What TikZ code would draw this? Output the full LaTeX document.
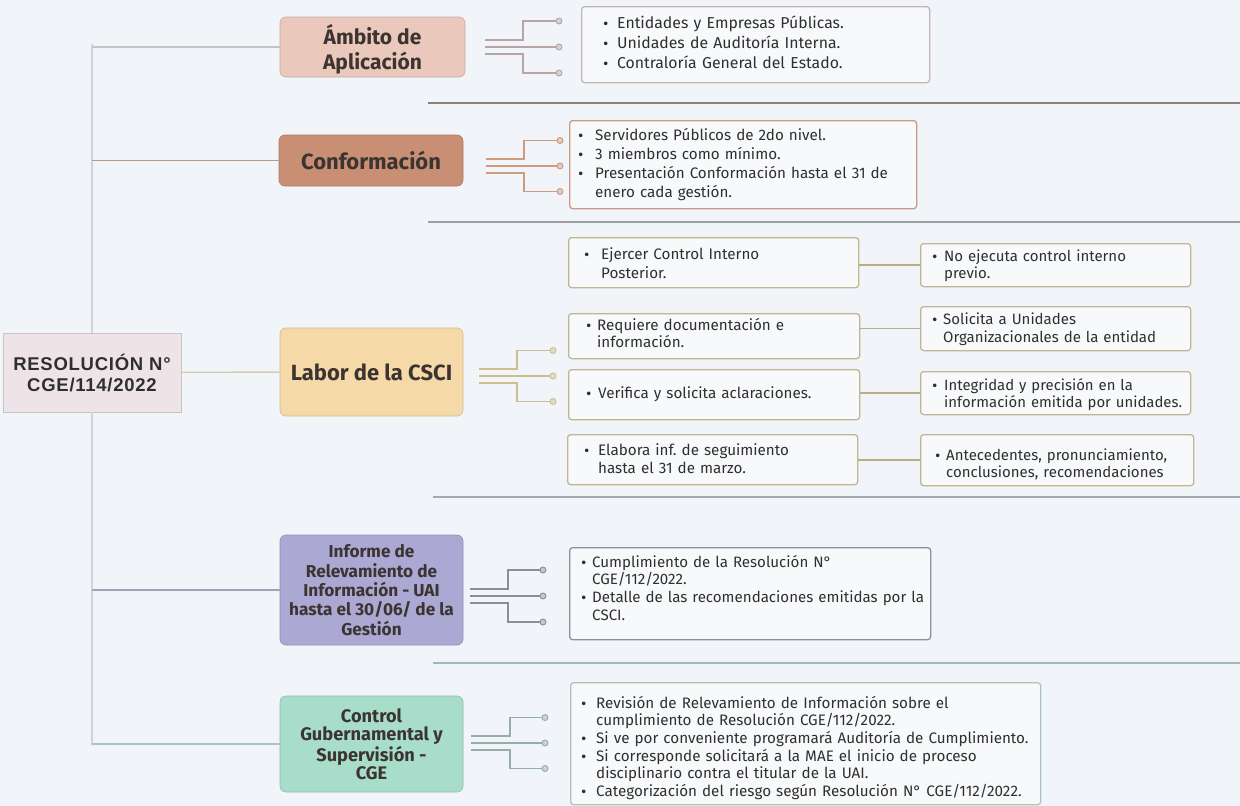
\documentclass[tikz,border=0pt]{standalone}
\usepackage{fontspec}
\setmainfont{Fira Sans}
\newfontfamily\rootfont[LetterSpace=4]{Liberation Sans}
\newfontfamily\bulfont{DejaVu Sans}
\usetikzlibrary{calc}
\definecolor{bg}{HTML}{F1F5F9}
\definecolor{boxfill}{HTML}{F7F9FB}
\definecolor{txt}{HTML}{2F2F2F}
\definecolor{ttl}{HTML}{3B3431}
\definecolor{rootfill}{HTML}{EEE4E8}
\definecolor{ambfill}{HTML}{EBC8BC}
\definecolor{conffill}{HTML}{C98F74}
\definecolor{labfill}{HTML}{F6D9A8}
\definecolor{inffill}{HTML}{ABA8D4}
\definecolor{ctlfill}{HTML}{A8DCCB}
\definecolor{ambfk}{HTML}{B9A3A3}
\definecolor{conffk}{HTML}{D09A7E}
\definecolor{labfk}{HTML}{CDBE8E}
\definecolor{inffk}{HTML}{8E8C99}
\definecolor{ctlfk}{HTML}{97ADA7}
\definecolor{trunkc}{HTML}{D3D3D7}
\definecolor{ambln}{HTML}{C6C3C3}
\definecolor{confln}{HTML}{B89A89}
\definecolor{labln}{HTML}{D6CEAA}
\definecolor{infln}{HTML}{A4A1B7}
\definecolor{ctlln}{HTML}{A9C4BB}
\definecolor{sepa}{HTML}{8C7F78}
\definecolor{sepb}{HTML}{A09E9E}
\definecolor{sepc}{HTML}{A2A7B4}
\definecolor{sepd}{HTML}{A3BAB4}
\definecolor{bxamb}{HTML}{C3B5B3}
\definecolor{bxconf}{HTML}{C99A86}
\definecolor{bxlab}{HTML}{C2B68E}
\definecolor{bxinf}{HTML}{8F8E9A}
\definecolor{bxctl}{HTML}{AFC3BC}
\definecolor{lconn}{HTML}{B8AF86}
\newcommand\bitem[2]{\noindent\hangindent=#1\hangafter=1\makebox[#1][l]{{\bulfont\fontsize{12.5}{12}\selectfont •}}#2\par}
\newcommand\forkdraw[7]{%
  \coordinate (#1s1) at (#2,#5-7);
  \coordinate (#1s2) at (#2,#5);
  \coordinate (#1s3) at (#2,#5+7);
  \coordinate (#1b) at (#3,#5);
  \node[fdot=#7] (#1c1) at (#4,#5-#6) {};
  \node[fdot=#7] (#1c2) at (#4,#5) {};
  \node[fdot=#7] (#1c3) at (#4,#5+#6) {};
  \draw[fline=#7] (#1s1) -- (#1s1 -| #1b) |- (#1c1.west);
  \draw[fline=#7] (#1s2) -- (#1c2.west);
  \draw[fline=#7] (#1s3) -- (#1s3 -| #1b) |- (#1c3.west);
}
\tikzset{
  fdot/.style={circle, draw=#1, fill=#1!45!bg, line width=0.9pt, minimum size=6pt, inner sep=0pt},
  fline/.style={draw=#1, line width=1.2pt},
  branch/.style={draw=#1!85!black, fill=#1, rounded corners=6pt, line width=0.6pt, inner sep=0pt, align=center, text=ttl, text depth=0pt},
  tbox/.style={draw=#1, fill=boxfill, rounded corners=3pt, line width=1.3pt, inner sep=0pt, anchor=north west},
  btxt/.style={anchor=base west, inner sep=0pt, text width=480pt, align=left, text=txt},
  hline/.style={draw=#1, line width=1.5pt},
  sepline/.style={draw=#1, line width=1.6pt},
}
\frenchspacing
\begin{document}
\frenchspacing
\begin{tikzpicture}[x=1pt,y=-1pt]
\useasboundingbox (0,0) rectangle (1240,806);
\fill[bg] (0,0) rectangle (1240,806);

% separators
\draw[sepline=sepa] (428,103) -- (1240,103);
\draw[sepline=sepb] (428,222) -- (1240,222);
\draw[sepline=sepc] (433,497) -- (1240,497);
\draw[sepline=sepd] (433,663) -- (1240,663);

% root
\node[draw=rootfill!85!black, fill=rootfill, line width=0.6pt, minimum width=178pt, minimum height=79pt, inner sep=0pt, align=center, text=txt,
  font=\rootfont\bfseries\fontsize{18.5}{21}\selectfont] (root) at (92,372.5) {RESOLUCIÓN N°\\CGE/114/2022};

% branch nodes
\node[branch=ambfill, minimum width=185pt, minimum height=60pt, font=\bfseries\fontsize{21}{25}\selectfont] (amb) at (372.5,47) {Ámbito de\\Aplicación};
\node[branch=conffill, minimum width=184pt, minimum height=51pt, font=\bfseries\fontsize{22}{25}\selectfont] (conf) at (371,160.5) {Conformación};
\node[branch=labfill, minimum width=183pt, minimum height=88pt, font=\bfseries\fontsize{22}{25}\selectfont] (lab) at (371.5,372) {Labor de la CSCI};
\node[branch=inffill, minimum width=183pt, minimum height=110pt, font=\bfseries\fontsize{17.2}{19.3}\selectfont] (inf) at (371.5,590) {Informe de\\Relevamiento de\\Información - UAI\\hasta el 30/06/ de la\\Gestión};
\node[branch=ctlfill, minimum width=183pt, minimum height=96pt, font=\bfseries\fontsize{18.2}{18.7}\selectfont] (ctl) at (371.5,744) {Control\\Gubernamental y\\Supervisión -\\CGE};

% trunk
\coordinate (ttop) at (92,44);
\coordinate (tbot) at (92,745);
\draw[hline=trunkc, line width=2.2pt] (root.north) -- (ttop);
\draw[hline=trunkc, line width=2.2pt] (root.south) -- (tbot);
\draw[hline=ambln] (root.north |- amb.west) -- (amb.west);
\draw[hline=confln] (root.north |- conf.west) -- (conf.west);
\draw[hline=labln] (root.east) -- (lab.west);
\draw[hline=infln] (root.south |- inf.west) -- (inf.west);
\draw[hline=ctlln] (root.south |- ctl.west) -- (ctl.west);

% forks
\forkdraw{fa}{485}{523}{559}{47}{26}{ambfk}
\forkdraw{fb}{486}{524}{560}{166}{25.5}{conffk}
\forkdraw{fc}{479}{517}{553}{376}{25.5}{labfk}
\forkdraw{fd}{470}{508}{543}{596}{26}{inffk}
\forkdraw{fe}{471}{510}{545}{743}{25.5}{ctlfk}

% text boxes: Ambito
\node[tbox=bxamb, minimum width=348pt, minimum height=76pt] (b1) at (581,6) {};
\node[btxt, font=\fontsize{15.8}{20}\selectfont] (b1t) at (602,28.5) {%
\bitem{15pt}{Entidades y Empresas Públicas.}%
\bitem{15pt}{Unidades de Auditoría Interna.}%
\bitem{15pt}{Contraloría General del Estado.}};

% Conformacion
\node[tbox=bxconf, minimum width=347pt, minimum height=88pt] (b2) at (569,120) {};
\node[btxt, font=\fontsize{15.2}{19}\selectfont] (b2t) at (577,140) {%
\bitem{18pt}{Servidores Públicos de 2do nivel.}%
\bitem{18pt}{3 miembros como mínimo.}%
\bitem{18pt}{Presentación Conformación hasta el 31 de\newline enero cada gestión.}};

% Labor boxes
\node[tbox=bxlab, minimum width=290pt, minimum height=50pt] (la) at (568,237) {};
\node[tbox=bxlab, minimum width=291pt, minimum height=45pt] (lb) at (568,313) {};
\node[tbox=bxlab, minimum width=291pt, minimum height=50pt] (lc) at (568,369) {};
\node[tbox=bxlab, minimum width=290pt, minimum height=50pt] (ld) at (567,434) {};
\node[tbox=bxlab, minimum width=270pt, minimum height=43pt] (lar) at (920,243) {};
\node[tbox=bxlab, minimum width=270pt, minimum height=44pt] (lbr) at (920,306) {};
\node[tbox=bxlab, minimum width=270pt, minimum height=43pt] (lcr) at (920,371) {};
\node[tbox=bxlab, minimum width=273pt, minimum height=51pt] (ldr) at (920,434) {};

\draw[draw=lconn, line width=1.4pt] (la.east |- lar.west) -- (lar.west);
\draw[draw=lconn, line width=1.4pt] (lb.east |- lbr.west) -- (lbr.west);
\draw[draw=lconn, line width=1.4pt] (lc.east |- lcr.west) -- (lcr.west);
\draw[draw=lconn, line width=1.4pt] (ld.east |- ldr.west) -- (ldr.west);

\node[btxt, font=\fontsize{15.2}{19}\selectfont] (lat) at (583,259) {\bitem{18pt}{Ejercer Control Interno\newline Posterior.}};
\node[btxt, font=\fontsize{15.2}{17.5}\selectfont] (lbt) at (585,330) {\bitem{12pt}{Requiere documentación e\newline información.}};
\node[btxt, font=\fontsize{15.2}{17.5}\selectfont] (lct) at (585,398) {\bitem{13pt}{Verifica y solicita aclaraciones.}};
\node[btxt, font=\fontsize{15.2}{18}\selectfont] (ldt) at (583,455) {\bitem{15pt}{Elabora inf. de seguimiento\newline hasta el 31 de marzo.}};
\node[btxt, font=\fontsize{15}{17.5}\selectfont] (lart) at (931,261) {\bitem{13pt}{No ejecuta control interno\newline previo.}};
\node[btxt, font=\fontsize{15}{18}\selectfont] (lbrt) at (931,324) {\bitem{12pt}{Solicita a Unidades\newline Organizacionales de la entidad}};
\node[btxt, font=\fontsize{14.9}{17.5}\selectfont] (lcrt) at (931,390) {\bitem{13pt}{Integridad y precisión en la\newline información emitida por unidades.}};
\node[btxt, font=\fontsize{15}{17.5}\selectfont] (ldrt) at (934,460) {\bitem{12pt}{Antecedentes, pronunciamiento,\newline conclusiones, recomendaciones}};

% Informe box
\node[tbox=bxinf, minimum width=361pt, minimum height=92pt] (b4) at (569,547) {};
\node[btxt, font=\fontsize{15.1}{17.7}\selectfont] (b4t) at (580,567) {%
\bitem{12pt}{Cumplimiento de la Resolución N°\newline CGE/112/2022.}%
\bitem{12pt}{Detalle de las recomendaciones emitidas por la\newline CSCI.}};

% Control box
\node[tbox=bxctl, minimum width=470pt, minimum height=122pt] (b5) at (570,682) {};
\node[btxt, font=\fontsize{15.2}{17.7}\selectfont] (b5t) at (580,708) {%
\bitem{16pt}{Revisión de Relevamiento de Información sobre el\newline cumplimiento de Resolución CGE/112/2022.}%
\bitem{16pt}{Si ve por conveniente programará Auditoría de Cumplimiento.}%
\bitem{16pt}{Si corresponde solicitará a la MAE el inicio de proceso\newline disciplinario contra el titular de la UAI.}%
\bitem{16pt}{Categorización del riesgo según Resolución N° CGE/112/2022.}};
\end{tikzpicture}
\end{document}
